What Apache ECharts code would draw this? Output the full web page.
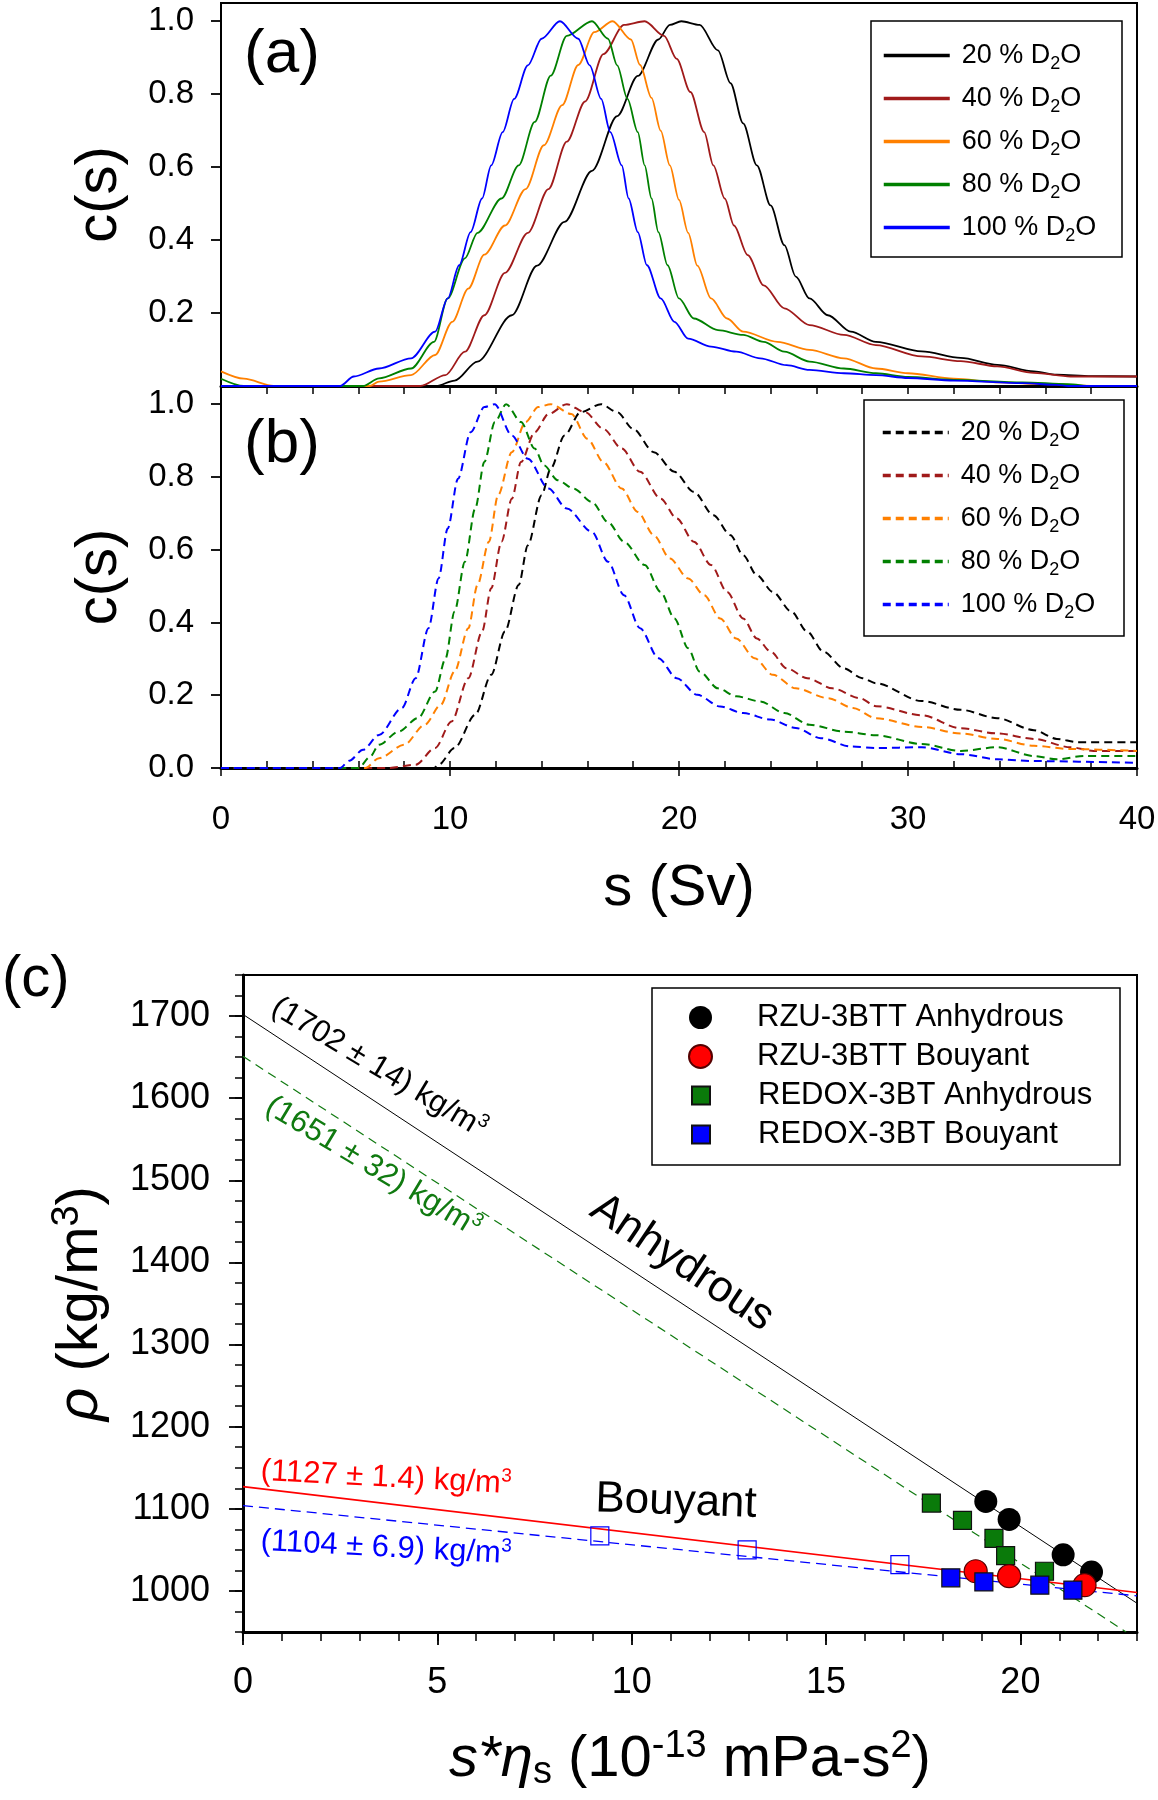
<!DOCTYPE html>
<html>
<head>
<meta charset="utf-8">
<script src="https://cdn.jsdelivr.net/npm/echarts@6/dist/echarts.min.js"></script>
<style>
html, body { margin: 0; padding: 0; background: #fff; }
#chart { width: 1158px; height: 1800px; }
</style>
</head>
<body>
<div id="chart"></div>
<script>
// ---- data ----
var d2oLabels = ['20', '40', '60', '80', '100'];
var curveColors = ['#000000', '#a01a1a', '#ff8000', '#008000', '#0000ff'];

// panel (a): c(s) profiles, solid
var a20 = [[0,0],[9.4,0],[10.2,0.015],[11.2,0.067],[12.7,0.194],[13.8,0.33],[15.0,0.45],[16.2,0.59],[17.3,0.74],[18.2,0.85],[19.1,0.95],[19.6,0.99],[20.1,1.0],[20.9,0.99],[21.7,0.92],[22.25,0.83],[22.8,0.72],[23.4,0.605],[24.0,0.495],[24.6,0.386],[25.1,0.30],[25.7,0.24],[26.5,0.194],[27.5,0.149],[28.6,0.121],[30.6,0.095],[32.3,0.077],[33.9,0.058],[35.5,0.04],[36.5,0.031],[38,0.027],[40,0.026]];
var a40 = [[0,0],[8.7,0],[9.8,0.03],[10.65,0.094],[11.5,0.194],[12.4,0.31],[13.4,0.42],[14.3,0.54],[15.1,0.67],[15.9,0.78],[16.7,0.91],[17.6,0.99],[18.5,1.0],[19.35,0.96],[19.9,0.897],[20.5,0.806],[21.1,0.696],[21.5,0.605],[22.0,0.514],[22.4,0.44],[23.0,0.359],[23.7,0.276],[24.6,0.213],[25.7,0.167],[27.2,0.14],[28.6,0.112],[30.6,0.081],[32.3,0.068],[33.9,0.054],[35.5,0.036],[37.1,0.026],[40,0.026]];
var a60 = [[0,0.04],[1,0.02],[2.3,0],[6.5,0],[6.9,0.012],[8.3,0.03],[9.35,0.085],[10.1,0.176],[10.8,0.267],[11.5,0.36],[12.4,0.44],[13.3,0.54],[14.1,0.66],[14.9,0.77],[15.6,0.88],[16.3,0.97],[17.1,1.0],[17.9,0.95],[18.3,0.88],[18.8,0.79],[19.2,0.70],[19.6,0.605],[20.0,0.51],[20.4,0.42],[20.8,0.33],[21.4,0.24],[22.1,0.185],[22.8,0.149],[24.3,0.121],[25.7,0.099],[27.2,0.076],[28.6,0.048],[30,0.035],[32,0.02],[34,0.01],[36,0.005],[38.5,0],[40,0]];
var a80 = [[0,0.02],[1,0],[6.2,0],[6.9,0.021],[8.3,0.048],[9.3,0.121],[9.9,0.24],[10.65,0.35],[11.2,0.42],[12.25,0.514],[13.0,0.605],[13.7,0.724],[14.4,0.851],[15.1,0.96],[16.2,1.0],[16.9,0.952],[17.3,0.879],[17.75,0.787],[18.2,0.696],[18.5,0.605],[18.8,0.514],[19.1,0.422],[19.5,0.331],[20.0,0.24],[20.65,0.185],[21.7,0.153],[22.8,0.14],[23.7,0.121],[24.6,0.094],[25.7,0.067],[27.2,0.048],[28.6,0.035],[30,0.025],[32,0.017],[35,0.01],[37,0.005],[38,0],[40,0]];
var a100 = [[0,0],[5.2,0],[5.8,0.026],[6.9,0.048],[8.3,0.076],[9.35,0.149],[9.9,0.24],[10.4,0.331],[10.9,0.422],[11.4,0.514],[11.8,0.605],[12.3,0.696],[12.8,0.787],[13.4,0.879],[14.0,0.952],[14.8,1.0],[15.6,0.952],[16.1,0.879],[16.6,0.787],[17.0,0.696],[17.5,0.605],[17.8,0.514],[18.2,0.422],[18.6,0.331],[19.2,0.24],[19.8,0.176],[20.4,0.13],[21.4,0.108],[22.5,0.094],[23.55,0.076],[24.7,0.057],[25.7,0.044],[27.2,0.035],[28.6,0.03],[30,0.022],[32,0.015],[35,0.008],[36.5,0.003],[37,0],[40,0]];

// panel (b): c(s) profiles, dashed
var b20 = [[0,0],[9.3,0],[9.5,0.009],[10.2,0.055],[11.1,0.146],[11.8,0.256],[12.4,0.375],[13.0,0.503],[13.4,0.612],[14.0,0.75],[14.4,0.823],[15.0,0.914],[15.7,0.978],[16.6,1.0],[17.3,0.978],[18.0,0.932],[18.9,0.868],[19.8,0.814],[20.65,0.759],[21.5,0.695],[22.25,0.64],[22.8,0.585],[23.4,0.53],[24.1,0.484],[24.9,0.43],[25.6,0.375],[26.3,0.32],[27.2,0.274],[28.0,0.247],[28.6,0.233],[30.6,0.184],[32.3,0.16],[33.9,0.137],[35.5,0.104],[36.5,0.08],[37.4,0.071],[40,0.071]];
var b40 = [[0,0],[7.3,0],[8.5,0.009],[9.35,0.055],[10.07,0.128],[10.8,0.247],[11.4,0.375],[11.8,0.494],[12.25,0.622],[12.7,0.74],[13.1,0.841],[13.7,0.923],[14.3,0.973],[15.1,1.0],[15.9,0.978],[16.7,0.932],[17.5,0.878],[18.3,0.814],[19.2,0.74],[19.9,0.686],[20.65,0.622],[21.4,0.558],[22.1,0.484],[22.8,0.411],[23.4,0.356],[24.0,0.32],[24.7,0.274],[25.6,0.247],[26.7,0.219],[27.9,0.192],[28.6,0.17],[30.6,0.145],[32.3,0.109],[33.9,0.095],[35.5,0.08],[37.1,0.057],[38.1,0.047],[40,0.047]];
var b60 = [[0,0],[6.3,0],[6.9,0.027],[8.0,0.064],[8.9,0.119],[9.6,0.174],[10.2,0.265],[10.8,0.384],[11.2,0.503],[11.7,0.622],[12.1,0.75],[12.7,0.868],[13.3,0.951],[13.85,0.992],[14.4,1.0],[15.3,0.973],[16.0,0.905],[16.7,0.841],[17.5,0.768],[18.2,0.704],[18.9,0.64],[19.6,0.576],[20.4,0.521],[21.1,0.475],[21.8,0.411],[22.5,0.356],[23.3,0.302],[24.1,0.256],[25.1,0.219],[26.5,0.192],[27.6,0.165],[28.6,0.137],[30.6,0.113],[32.3,0.095],[33.9,0.08],[35.5,0.061],[37.1,0.052],[40,0.047]];
var b80 = [[0,0],[6,0],[6.5,0.03],[6.9,0.064],[7.75,0.1],[8.6,0.137],[9.35,0.21],[9.8,0.3],[10.2,0.43],[10.65,0.567],[11.1,0.713],[11.5,0.841],[11.96,0.951],[12.45,1.0],[13.1,0.951],[13.7,0.878],[14.1,0.832],[14.7,0.791],[15.4,0.768],[16.2,0.731],[16.9,0.676],[17.6,0.622],[18.5,0.558],[19.2,0.484],[19.8,0.411],[20.4,0.329],[20.9,0.265],[21.7,0.219],[22.5,0.197],[23.55,0.183],[24.6,0.151],[25.7,0.119],[27.2,0.1],[28.6,0.09],[30.6,0.066],[32.3,0.047],[33.9,0.057],[35.5,0.033],[36.5,0.024],[37.7,0.033],[40,0.033]];
var b100 = [[0,0],[5.2,0],[5.6,0.02],[6.2,0.05],[6.9,0.091],[7.9,0.165],[8.5,0.247],[9.06,0.384],[9.5,0.521],[9.9,0.658],[10.35,0.795],[10.9,0.923],[11.5,0.992],[11.95,1.0],[12.7,0.914],[13.4,0.85],[14.3,0.768],[15.1,0.713],[16.2,0.649],[16.9,0.567],[17.6,0.475],[18.3,0.384],[19.1,0.302],[19.9,0.247],[20.8,0.201],[21.8,0.169],[22.8,0.151],[24.0,0.133],[25.1,0.11],[26.2,0.082],[27.5,0.059],[28.6,0.055],[30.6,0.057],[32.3,0.038],[33.9,0.024],[35.5,0.019],[40,0.014]];

// panel (c): density vs s*eta
var rzuAnhydrous = [[19.11,1109],[19.71,1087],[21.1,1044],[21.83,1023]];
var rzuBouyant = [[18.85,1024],[19.71,1018],[21.65,1007]];
var redoxAnhydrous = [[17.71,1107],[18.51,1086],[19.32,1064],[19.62,1043],[20.62,1024]];
var redoxBouyant = [[18.21,1016],[19.06,1011],[20.5,1007],[21.35,1001]];
var redoxBouyantOpen = [[9.18,1067],[12.97,1050],[16.9,1032]];
var fitRzuAnhydrous = [[0,1702],[23,985]];
var fitRedoxAnhydrous = [[0,1651],[22.72,950]];
var fitRzuBouyant = [[0,1127],[23,998]];
var fitRedoxBouyant = [[0,1104],[23,994]];

var cTicksA = [0.2, 0.4, 0.6, 0.8, 1.0];
var cTicksB = [0, 0.2, 0.4, 0.6, 0.8, 1.0];
var rhoTicks = [1000, 1100, 1200, 1300, 1400, 1500, 1600, 1700];

var FONT = "'Liberation Sans', Arial, sans-serif";

var chart = echarts.init(document.getElementById('chart'));

function curveSeries(name, data, color, dashed, axisIdx) {
    return {
        name: name,
        type: 'line',
        xAxisIndex: axisIdx,
        yAxisIndex: axisIdx,
        data: data,
        showSymbol: false,
        symbol: 'none',
        smooth: 0.3,
        smoothMonotone: 'x',
        animation: false,
        lineStyle: {color: color, width: dashed ? 2 : 1.8, type: dashed ? [8, 5] : 'solid'},
        itemStyle: {color: color}
    };
}

var aSets = [a20, a40, a60, a80, a100];
var bSets = [b20, b40, b60, b80, b100];
var series = [];
var aNames = [], bNames = [];
for (var i = 0; i < 5; i++) {
    aNames.push('a' + d2oLabels[i]);
    series.push(curveSeries('a' + d2oLabels[i], aSets[i], curveColors[i], false, 0));
}
for (var j = 0; j < 5; j++) {
    bNames.push('b' + d2oLabels[j]);
    series.push(curveSeries('b' + d2oLabels[j], bSets[j], curveColors[j], true, 1));
}

function fitLine(data, color, width, dash) {
    return {
        type: 'line', xAxisIndex: 3, yAxisIndex: 2, data: data,
        symbol: 'none', showSymbol: false, animation: false, z: 1,
        lineStyle: {color: color, width: width, type: dash}
    };
}
series.push(fitLine(fitRzuAnhydrous, '#000', 1, 'solid'));
series.push(fitLine(fitRedoxAnhydrous, '#107a10', 1.2, [9, 6]));
series.push(fitLine(fitRzuBouyant, '#ff0000', 1.6, 'solid'));
series.push(fitLine(fitRedoxBouyant, '#0000ff', 1.3, [10, 6]));

function scatter(name, data, symbol, size, color, border) {
    return {
        name: name, type: 'scatter', xAxisIndex: 3, yAxisIndex: 2, data: data,
        symbol: symbol, symbolSize: size, animation: false, z: 3,
        itemStyle: {color: color, opacity: 1, borderColor: border, borderWidth: border ? 1.2 : 0}
    };
}
series.push(scatter('REDOX-3BT Bouyant open', redoxBouyantOpen, 'rect', 18, 'rgba(0,0,0,0)', '#0000ff'));
series.push(scatter('RZU-3BTT Anhydrous', rzuAnhydrous, 'circle', 23, '#000000', null));
series.push(scatter('REDOX-3BT Anhydrous', redoxAnhydrous, 'rect', 18, '#0a7a0a', '#111'));
series.push(scatter('RZU-3BTT Bouyant', rzuBouyant, 'circle', 23, '#ff0000', '#500'));
series.push(scatter('REDOX-3BT Bouyant', redoxBouyant, 'rect', 18, '#0000ff', '#111'));

var subRich = {sub: {fontSize: 18, fontFamily: FONT, lineHeight: 8, verticalAlign: 'bottom', color: '#000'}};
function d2oFormatter(name) {
    return name.slice(1) + ' % D{sub|2}O';
}
function legendAB(names, top, pad) {
    return {
        data: names, orient: 'vertical', left: 871, top: top,
        padding: pad, itemWidth: 66, itemHeight: 28, itemGap: 8,
        selectedMode: false,
        lineStyle: {width: 3.5},
        itemStyle: {opacity: 0},
        formatter: d2oFormatter,
        textStyle: {fontSize: 27, fontFamily: FONT, color: '#000', lineHeight: 35, padding: [0, 0, 0, 7], rich: subRich}
    };
}

function note(text, x, y, deg, size, color) {
    return {
        type: 'text', x: x, y: y, rotation: deg * Math.PI / 180, z: 10,
        style: {
            text: text, fontSize: size, fontFamily: FONT, fill: color,
            align: 'center', verticalAlign: 'middle', lineHeight: size + 4,
            rich: {sup: {fontSize: Math.round(size * 0.6), fontFamily: FONT, fill: color, lineHeight: 14, verticalAlign: 'top'}}
        }
    };
}

var option = {
    backgroundColor: '#fff',
    animation: false,
    textStyle: {fontFamily: FONT},
    grid: [
        {left: 221, top: 3, width: 916, height: 383, show: true, borderColor: '#000', borderWidth: 2, backgroundColor: 'transparent', containLabel: false, outerBoundsMode: 'none'},
        {left: 221, top: 386, width: 916, height: 382, show: true, borderColor: '#000', borderWidth: 2, backgroundColor: 'transparent', containLabel: false, outerBoundsMode: 'none'},
        {left: 243, top: 975, width: 894, height: 657, show: true, borderColor: '#000', borderWidth: 2, backgroundColor: 'transparent', containLabel: false, outerBoundsMode: 'none'}
    ],
    xAxis: [
        {gridIndex: 0, type: 'value', position: 'bottom', min: 0, max: 40, interval: 2,
            axisLine: {show: true, onZero: false, lineStyle: {color: '#000', width: 3}},
            axisTick: {show: true, inside: false, length: 8, lineStyle: {color: '#000', width: 1.5}},
            axisLabel: {show: false}, splitLine: {show: false}},
        {gridIndex: 1, type: 'value', position: 'bottom', min: 0, max: 40, interval: 2,
            axisLine: {show: true, onZero: false, lineStyle: {color: '#000', width: 3}},
            axisTick: {show: true, inside: true, length: 7, lineStyle: {color: '#000', width: 1.5}},
            axisLabel: {show: false}, splitLine: {show: false}},
        {gridIndex: 1, type: 'value', position: 'bottom', min: 0, max: 40, interval: 10,
            axisLine: {show: false, onZero: false},
            axisTick: {show: true, inside: false, length: 8, lineStyle: {color: '#000', width: 1.5}},
            axisLabel: {show: true, fontSize: 33, fontFamily: FONT, color: '#000', margin: 35},
            splitLine: {show: false},
            name: 's (Sv)', nameLocation: 'middle', nameGap: 92,
            nameTextStyle: {fontSize: 58, fontFamily: FONT, color: '#000'}},
        {gridIndex: 2, type: 'value', position: 'bottom', min: 0, max: 23, interval: 1,
            axisLine: {show: true, onZero: false, lineStyle: {color: '#000', width: 3}},
            axisTick: {show: true, inside: false, length: 9, lineStyle: {color: '#000', width: 1.5}},
            axisLabel: {show: false}, splitLine: {show: false}},
        {gridIndex: 2, type: 'value', position: 'bottom', min: 0, max: 23, interval: 5,
            axisLine: {show: false, onZero: false},
            axisTick: {show: true, inside: false, length: 13, lineStyle: {color: '#000', width: 1.8}},
            axisLabel: {show: true, fontSize: 36, fontFamily: FONT, color: '#000', margin: 33, showMaxLabel: false,
                formatter: function (v) { return v % 5 === 0 ? String(v) : ''; }},
            splitLine: {show: false},
            name: '{it|s*\u03b7}{sub|s} (10{sup|-13} mPa-s{sup|2})', nameLocation: 'middle', nameGap: 96,
            nameTextStyle: {fontSize: 58, fontFamily: FONT, color: '#000', rich: {
                it: {fontSize: 58, fontFamily: FONT, fontStyle: 'italic', color: '#000', lineHeight: 64},
                sub: {fontSize: 38, fontFamily: FONT, color: '#000', lineHeight: 30, verticalAlign: 'bottom'},
                sup: {fontSize: 38, fontFamily: FONT, color: '#000', lineHeight: 30, verticalAlign: 'top'}
            }}}
    ],
    yAxis: [
        {gridIndex: 0, type: 'value', position: 'left', min: 0, max: 1.05, interval: 0.2,
            axisLine: {show: true, onZero: false, lineStyle: {color: '#000', width: 1.8}},
            axisTick: {show: true, inside: false, length: 10, customValues: cTicksA, lineStyle: {color: '#000', width: 1.8}},
            axisLabel: {show: true, customValues: cTicksA, fontSize: 33, fontFamily: FONT, color: '#000', margin: 27,
                formatter: function (v) { return v > 0.1 && v < 1.01 ? v.toFixed(1) : ''; }},
            splitLine: {show: false},
            name: 'c(s)', nameLocation: 'middle', nameRotate: 90, nameGap: 92,
            nameTextStyle: {fontSize: 58, fontFamily: FONT, color: '#000'}},
        {gridIndex: 1, type: 'value', position: 'left', min: 0, max: 1.05, interval: 0.2,
            axisLine: {show: true, onZero: false, lineStyle: {color: '#000', width: 1.8}},
            axisTick: {show: true, inside: false, length: 10, customValues: cTicksB, lineStyle: {color: '#000', width: 1.8}},
            axisLabel: {show: true, customValues: cTicksB, fontSize: 33, fontFamily: FONT, color: '#000', margin: 27,
                formatter: function (v) { return v < 1.01 ? v.toFixed(1) : ''; }},
            splitLine: {show: false},
            name: 'c(s)', nameLocation: 'middle', nameRotate: 90, nameGap: 92,
            nameTextStyle: {fontSize: 58, fontFamily: FONT, color: '#000'}},
        {gridIndex: 2, type: 'value', position: 'left', min: 950, max: 1750, interval: 25,
            axisLine: {show: true, onZero: false, lineStyle: {color: '#000', width: 3}},
            axisTick: {show: true, inside: false, length: 8, lineStyle: {color: '#000', width: 1.5}},
            axisLabel: {show: false}, splitLine: {show: false}},
        {gridIndex: 2, type: 'value', position: 'left', min: 950, max: 1750, interval: 50,
            axisLine: {show: false, onZero: false},
            axisTick: {show: true, inside: false, length: 14, customValues: rhoTicks, lineStyle: {color: '#000', width: 1.8}},
            axisLabel: {show: true, customValues: rhoTicks, fontSize: 36, fontFamily: FONT, color: '#000', margin: 33,
                formatter: function (v) { return v % 100 === 0 && v >= 1000 && v <= 1700 ? String(v) : ''; }},
            splitLine: {show: false},
            name: '{it|\u03c1} (kg/m{sup|3})', nameLocation: 'middle', nameRotate: 90, nameGap: 130,
            nameTextStyle: {fontSize: 58, fontFamily: FONT, color: '#000', rich: {
                it: {fontSize: 58, fontFamily: FONT, fontStyle: 'italic', color: '#000', lineHeight: 64},
                sup: {fontSize: 38, fontFamily: FONT, color: '#000', lineHeight: 30, verticalAlign: 'top'}
            }}}
    ],
    legend: [
        legendAB(aNames, 21, [17, 22, 15, 11]),
        legendAB(bNames, 400, [15, 22, 18, 10]),
        {data: ['RZU-3BTT Anhydrous', 'RZU-3BTT Bouyant'], orient: 'vertical', left: 688, top: 1002,
            padding: 0, itemWidth: 23, itemHeight: 23, itemGap: 8, selectedMode: false,
            itemStyle: {opacity: 1},
            textStyle: {fontSize: 31, fontFamily: FONT, color: '#000', lineHeight: 23, padding: [0, 0, 0, 40]}},
        {data: ['REDOX-3BT Anhydrous', 'REDOX-3BT Bouyant'], orient: 'vertical', left: 691, top: 1080,
            padding: 0, itemWidth: 18, itemHeight: 18, itemGap: 8, selectedMode: false,
            itemStyle: {opacity: 1},
            textStyle: {fontSize: 31, fontFamily: FONT, color: '#000', lineHeight: 18, padding: [0, 0, 0, 43]}}
    ],
    graphic: [
        {type: 'rect', shape: {x: 871, y: 21, width: 251, height: 236}, style: {fill: 'none', stroke: '#000', lineWidth: 1.5}, z: 5},
        {type: 'rect', shape: {x: 864, y: 400, width: 260, height: 236}, style: {fill: 'none', stroke: '#000', lineWidth: 1.5}, z: 5},
        {type: 'rect', shape: {x: 652, y: 988, width: 468, height: 177}, style: {fill: 'none', stroke: '#000', lineWidth: 1.5}, z: 5},
        {type: 'text', x: 244, y: 55, style: {text: '(a)', fontSize: 62, fontFamily: FONT, fill: '#000', align: 'left', verticalAlign: 'middle'}},
        {type: 'text', x: 244, y: 445, style: {text: '(b)', fontSize: 62, fontFamily: FONT, fill: '#000', align: 'left', verticalAlign: 'middle'}},
        {type: 'text', x: 2, y: 980, style: {text: '(c)', fontSize: 58, fontFamily: FONT, fill: '#000', align: 'left', verticalAlign: 'middle'}},
        note('(1702 \u00b1 14) kg/m{sup|3}', 379, 1068, -31, 31, '#000'),
        note('(1651 \u00b1 32) kg/m{sup|3}', 373, 1167, -31, 31, '#107a10'),
        note('Anhydrous', 682, 1263, -34, 44, '#000'),
        note('Bouyant', 676, 1502, -2, 44, '#000'),
        note('(1127 \u00b1 1.4) kg/m{sup|3}', 386, 1478, -3, 31, '#ff0000'),
        note('(1104 \u00b1 6.9) kg/m{sup|3}', 386, 1548, -3, 31, '#0000ff')
    ],
    series: series
};

chart.setOption(option);
</script>
</body>
</html>
